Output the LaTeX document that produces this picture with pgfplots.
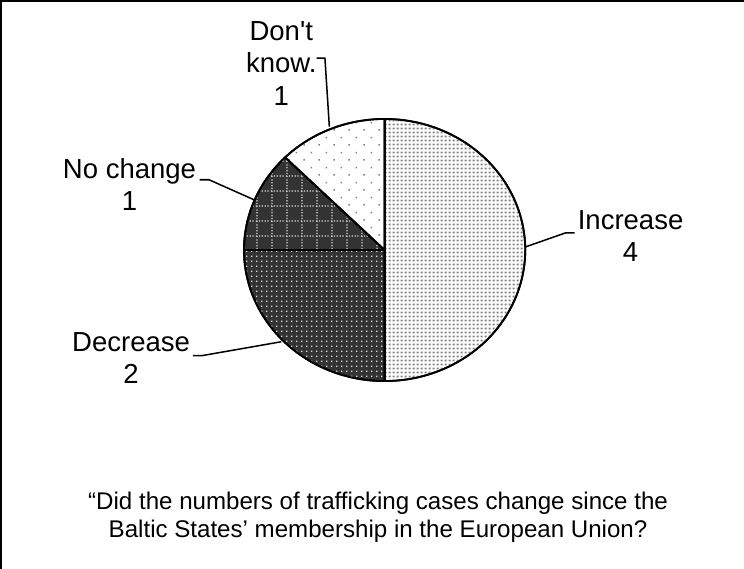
\documentclass[border=0pt]{standalone}
\usepackage{pgfplots}
\pgfplotsset{compat=1.18}
\usepackage{pgfplotstable}
\usepackage{fontspec}
\setmainfont{Liberation Sans}
\usetikzlibrary{patterns.meta}

\tikzdeclarepattern{
  name=incdots, type=uncolored,
  bottom left={(0,0)}, top right={(3.5bp,3.5bp)}, tile size={(3.5bp,3.5bp)},
  code={\fill (0.6bp,0.6bp) rectangle (2.8bp,2.8bp);}
}
\tikzdeclarepattern{
  name=decdots, type=uncolored,
  bottom left={(0,0)}, top right={(4.5bp,4.5bp)}, tile size={(4.5bp,4.5bp)},
  code={\fill (1.2bp,1.2bp) rectangle (2.7bp,2.7bp);}
}
\tikzdeclarepattern{
  name=dotgrid, type=uncolored,
  bottom left={(0,0)}, top right={(15bp,15bp)}, tile size={(15bp,15bp)},
  code={
    \draw[line width=1.3bp, dash pattern=on 1.3bp off 1.7bp] (0,1bp) -- (15bp,1bp);
    \draw[line width=1.3bp, dash pattern=on 1.3bp off 1.7bp] (1bp,0) -- (1bp,15bp);
  }
}
\tikzdeclarepattern{
  name=sparsedots, type=uncolored,
  bottom left={(0,0)}, top right={(15bp,15bp)}, tile size={(15bp,15bp)},
  code={
    \fill (1.5bp,1.5bp) rectangle (3bp,3bp);
    \fill (9bp,9bp) rectangle (10.5bp,10.5bp);
  }
}

\definecolor{darkfill}{RGB}{51,51,51}

\pgfplotstableread{
label value
Increase 4
Decrease 2
NoChange 1
DontKnow 1
}\piedata

\begin{document}%
\begin{tikzpicture}
\pgfplotstablegetelem{0}{value}\of\piedata\edef\vInc{\pgfplotsretval}
\pgfplotstablegetelem{1}{value}\of\piedata\edef\vDec{\pgfplotsretval}
\pgfplotstablegetelem{2}{value}\of\piedata\edef\vNoc{\pgfplotsretval}
\pgfplotstablegetelem{3}{value}\of\piedata\edef\vDk{\pgfplotsretval}
\pgfmathsetmacro\tot{\vInc+\vDec+\vNoc+\vDk}
\pgfmathsetmacro\aA{90}
\pgfmathsetmacro\aB{\aA-360*\vInc/\tot}
\pgfmathsetmacro\aC{\aB-360*\vDec/\tot}
\pgfmathsetmacro\aD{\aC-360*\vNoc/\tot}
\pgfmathsetmacro\aE{\aD-360*\vDk/\tot}
\def\cx{387.5}\def\cy{253}\def\rx{139.5}\def\ry{130}
\begin{axis}[
  width=744bp, height=569bp, scale only axis,
  xmin=0, xmax=744, ymin=0, ymax=569, y dir=reverse,
  hide axis, no markers,
  every axis plot/.append style={draw=black, line width=1.8bp, line join=round, samples=120},
]
% Increase
\addplot[preaction={fill=white}, pattern=incdots, pattern color=gray, domain=\aB:\aA]
  ({\cx+\rx*cos(x)},{\cy-\ry*sin(x)}) -- (axis cs:\cx,\cy) -- cycle;
% Decrease
\addplot[preaction={fill=darkfill}, pattern=decdots, pattern color=white!85!black, domain=\aC:\aB]
  ({\cx+\rx*cos(x)},{\cy-\ry*sin(x)}) -- (axis cs:\cx,\cy) -- cycle;
% No change
\addplot[preaction={fill=darkfill}, pattern=dotgrid, pattern color=white!85!black, domain=\aD:\aC]
  ({\cx+\rx*cos(x)},{\cy-\ry*sin(x)}) -- (axis cs:\cx,\cy) -- cycle;
% Don't know
\addplot[preaction={fill=white}, pattern=sparsedots, pattern color=gray, domain=\aE:\aD]
  ({\cx+\rx*cos(x)},{\cy-\ry*sin(x)}) -- (axis cs:\cx,\cy) -- cycle;

% frame (left and top edges visible)
\draw[line width=2bp] (axis cs:7,569) -- (axis cs:7,6) -- (axis cs:744,6);

% leader lines
\draw[line width=1.5bp] (axis cs:320,62.7) -- (axis cs:328.3,62.7) -- (axis cs:332.7,130.7);
\draw[line width=1.5bp] (axis cs:204,183.3) -- (axis cs:213.3,183.3) -- (axis cs:258.3,203.3);
\draw[line width=1.5bp] (axis cs:197.3,357.7) -- (axis cs:206.7,357.7) -- (axis cs:285,344);
\draw[line width=1.5bp] (axis cs:576,236) -- (axis cs:567,236) -- (axis cs:527,250);

% labels
\node[font=\fontsize{27.4}{32.5}\selectfont, align=center] at (axis cs:285,68) {Don\textquotesingle t\\know.\\1};
\node[font=\fontsize{27.4}{32.5}\selectfont, align=center] at (axis cs:134.5,188) {No change\\1};
\node[font=\fontsize{27.4}{32.5}\selectfont, align=center] at (axis cs:136,360) {Decrease\\2};
\node[font=\fontsize{27.4}{32.5}\selectfont, align=center] at (axis cs:631.5,239) {Increase\\4};

% caption
\node[font=\fontsize{24}{28}\selectfont, align=center] at (axis cs:381,518)
  {“Did the numbers of trafficking cases change since the\\Baltic States’ membership in the European Union?};
\end{axis}
\end{tikzpicture}%
\end{document}
